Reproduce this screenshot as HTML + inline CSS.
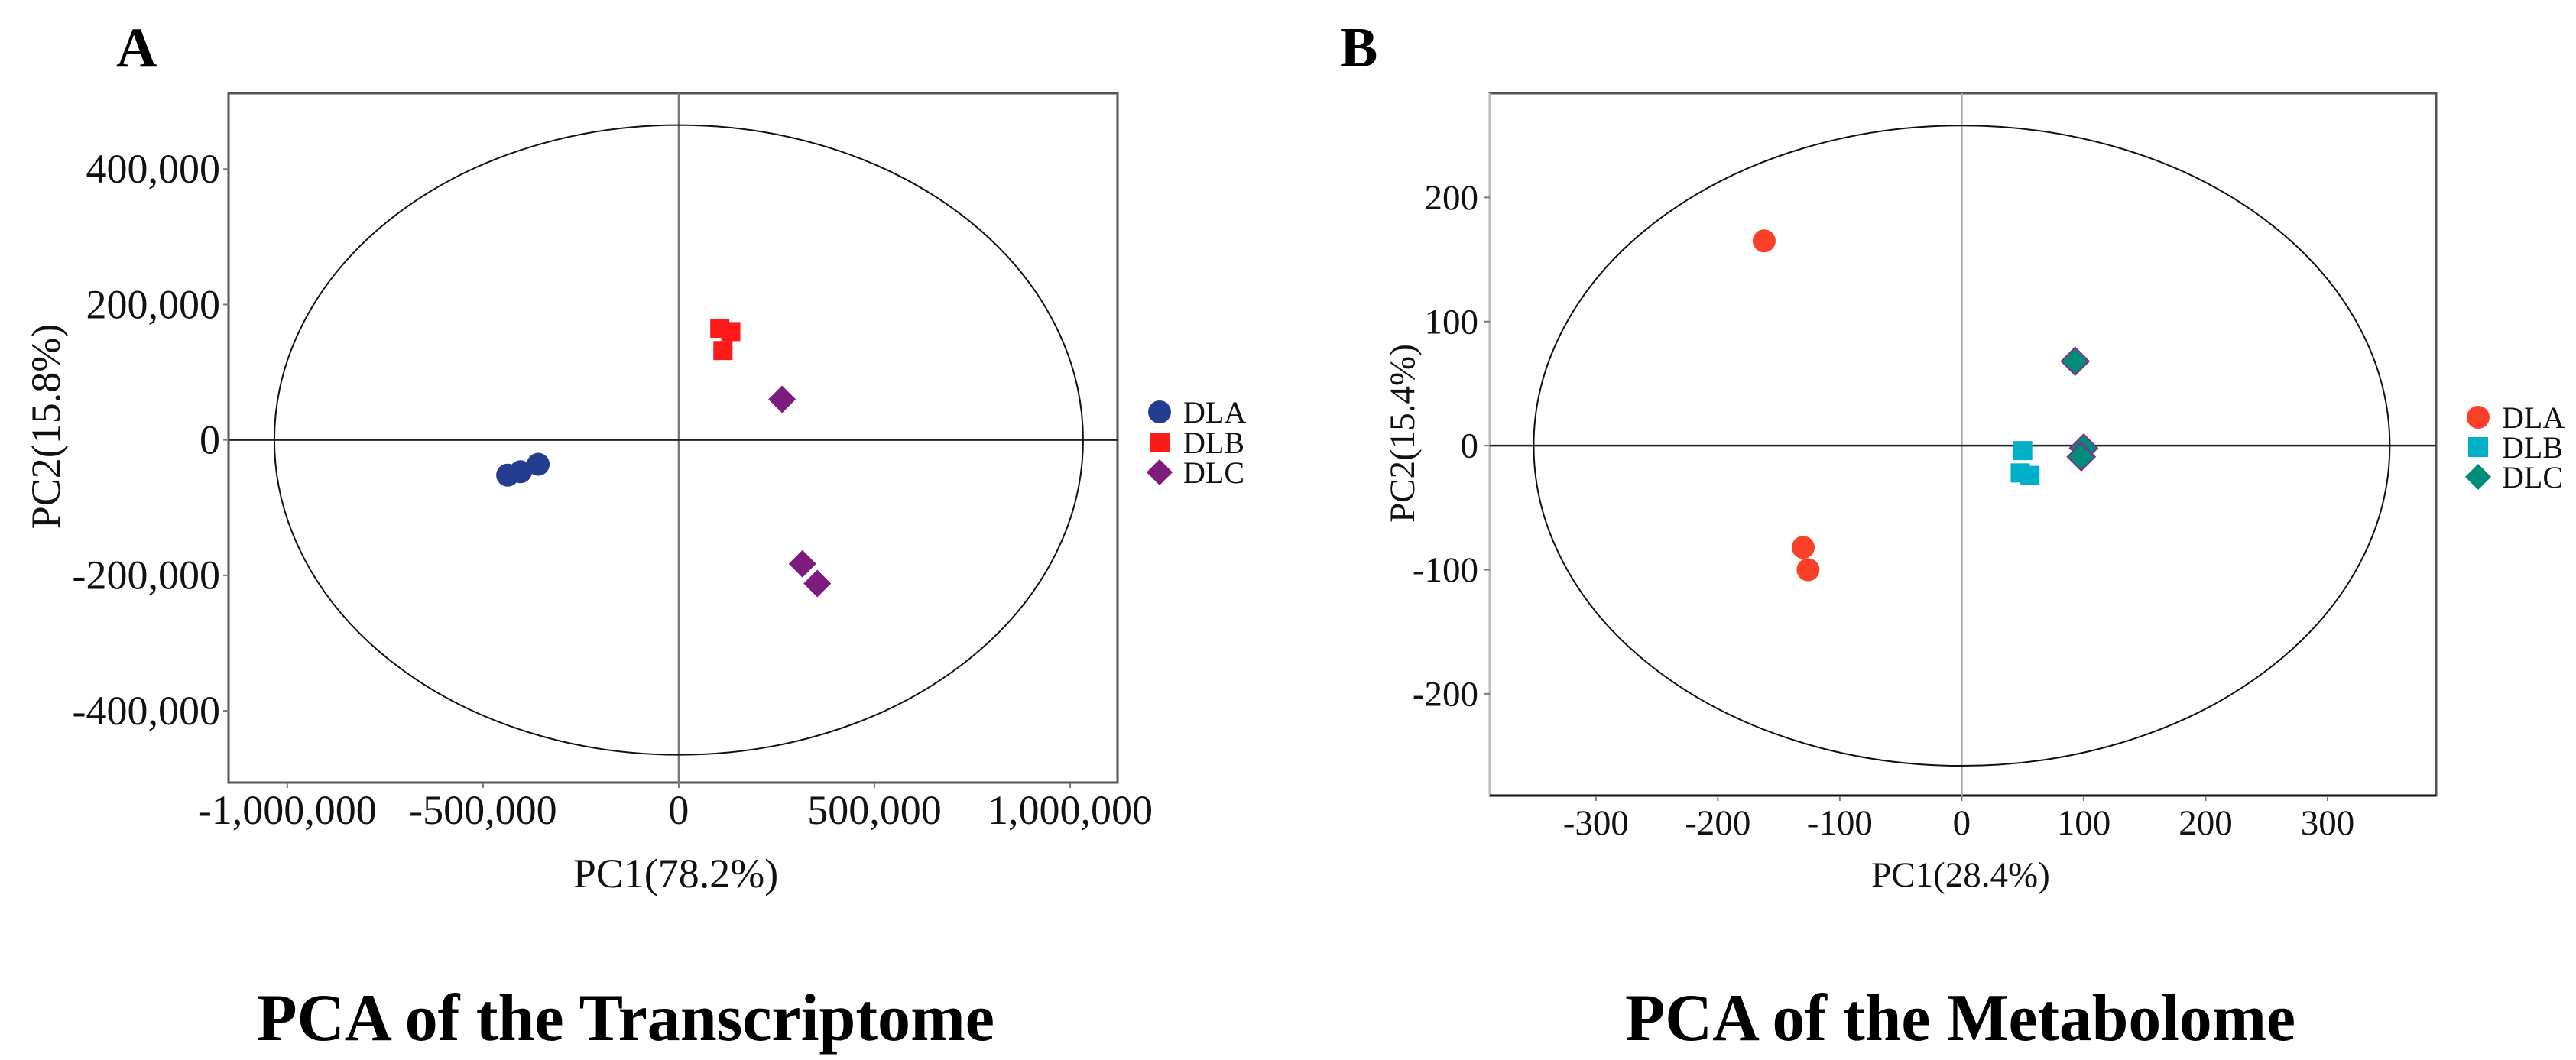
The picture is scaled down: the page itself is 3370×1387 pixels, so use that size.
<!DOCTYPE html>
<html><head><meta charset="utf-8">
<style>
html,body{margin:0;padding:0;background:#fff;}
svg{display:block;font-family:"Liberation Serif",serif;}
</style></head>
<body>
<svg id="fig" width="3370" height="1387" viewBox="0 0 3370 1387" xmlns="http://www.w3.org/2000/svg">
<rect width="3370" height="1387" fill="#fff"/>
</svg>
<script>
// ---- Panel A data (Transcriptome) ----
const aDLAx = [-437000, -404000, -359000];
const aDLAy = [-52000, -47000, -36000];
const aDLBx = [105000, 133000, 113000];
const aDLBy = [165000, 160000, 132000];
const aDLCx = [264000, 316000, 354000];
const aDLCy = [60000, -183000, -212000];
const aXTicks = [-1000000, -500000, 0, 500000, 1000000];
const aXTickLabels = ["-1,000,000", "-500,000", "0", "500,000", "1,000,000"];
const aYTicks = [400000, 200000, 0, -200000, -400000];
const aYTickLabels = ["400,000", "200,000", "0", "-200,000", "-400,000"];
const aEllipse = [1033000, 465000];
// ---- Panel B data (Metabolome) ----
const bDLAx = [-162, -130, -126];
const bDLAy = [165, -82, -100];
const bDLBx = [50, 48, 56];
const bDLBy = [-4, -22, -24];
const bDLCx = [93, 100, 98];
const bDLCy = [68, -2, -9];
const bXTicks = [-300, -200, -100, 0, 100, 200, 300];
const bXTickLabels = ["-300", "-200", "-100", "0", "100", "200", "300"];
const bYTicks = [200, 100, 0, -100, -200];
const bYTickLabels = ["200", "100", "0", "-100", "-200"];
const bEllipse = [351, 258];
const legendLabels = ["DLA", "DLB", "DLC"];

const NS = "http://www.w3.org/2000/svg";
const svg = document.getElementById("fig");
function mk(tag, attrs, parent) {
  const e = document.createElementNS(NS, tag);
  for (const k in attrs) e.setAttribute(k, attrs[k]);
  (parent || svg).appendChild(e);
  return e;
}
function txt(str, attrs, parent) {
  const t = mk("text", attrs, parent);
  t.textContent = str;
  return t;
}

function panel(cfg) {
  const g = mk("g", {});
  
  
  const sx = v => cfg.x0 + (v - cfg.xmin) / (cfg.xmax - cfg.xmin) * (cfg.x1 - cfg.x0);
  const sy = v => cfg.y1 - (v - cfg.ymin) / (cfg.ymax - cfg.ymin) * (cfg.y1 - cfg.y0);

  // frame
  const fr = mk("rect", {x: cfg.x0, y: cfg.y0, width: cfg.x1 - cfg.x0, height: cfg.y1 - cfg.y0, fill: "none", stroke: "#555", "stroke-width": 3}, g);
  
  
  const la = mk("line", {x1: cfg.x0, y1: cfg.y0, x2: cfg.x0, y2: cfg.y1, stroke: cfg.leftColor, "stroke-width": 3}, g);
  
  
  const ba = mk("line", {x1: cfg.x0, y1: cfg.y1, x2: cfg.x1, y2: cfg.y1, stroke: cfg.bottomColor, "stroke-width": 3}, g);
  
  

  // zero lines
  const vz = mk("line", {x1: sx(0), y1: cfg.y0, x2: sx(0), y2: cfg.y1, stroke: cfg.vzColor, "stroke-width": 2.5}, g);
  
  
  const hz = mk("line", {x1: cfg.x0, y1: sy(0), x2: cfg.x1, y2: sy(0), stroke: "#222", "stroke-width": 2.5}, g);
  
  

  // ellipse
  const el = mk("ellipse", {cx: sx(0), cy: sy(0), rx: sx(cfg.ell[0]) - sx(0), ry: sy(0) - sy(cfg.ell[1]), fill: "none", stroke: "#111", "stroke-width": 2}, g);
  
  

  // ticks
  cfg.xTicks.forEach((v, i) => {
    const t = mk("line", {x1: sx(v), y1: cfg.y1, x2: sx(v), y2: cfg.y1 + 7, stroke: "#777", "stroke-width": 2}, g);
    
    
    const l = txt(cfg.xTickLabels[i], {x: sx(v), y: cfg.xLabY, "font-size": cfg.fs, "text-anchor": "middle", fill: "#111"}, g);
    
    
  });
  cfg.yTicks.forEach((v, i) => {
    const t = mk("line", {x1: cfg.x0 - 7, y1: sy(v), x2: cfg.x0, y2: sy(v), stroke: "#777", "stroke-width": 2}, g);
    
    
    const l = txt(cfg.yTickLabels[i], {x: cfg.yLabX, y: sy(v) + cfg.fs * 0.33, "font-size": cfg.fs, "text-anchor": "end", fill: "#111"}, g);
    
    
  });

  // axis titles
  const xt = txt(cfg.xTitle, {x: cfg.xTitleX, y: cfg.xTitleY, "font-size": cfg.fs, "text-anchor": "middle", fill: "#111"}, g);
  
  
  const yt = txt(cfg.yTitle, {x: 0, y: 0, "font-size": cfg.fs, "text-anchor": "middle", fill: "#111", transform: "translate(" + cfg.yTitleX + "," + cfg.yTitleY + ") rotate(-90)"}, g);
  
  

  // points
  const r = cfg.r;
  cfg.dla[0].forEach((v, i) => {
    const c = mk("circle", {cx: sx(v), cy: sy(cfg.dla[1][i]), r: r, fill: cfg.colors[0]}, g);
    
    
  });
  cfg.dlb[0].forEach((v, i) => {
    const s = cfg.sq;
    const c = mk("rect", {x: sx(v) - s / 2, y: sy(cfg.dlb[1][i]) - s / 2, width: s, height: s, fill: cfg.colors[1]}, g);
    
    
  });
  cfg.dlc[0].forEach((v, i) => {
    const cx = sx(v), cy = sy(cfg.dlc[1][i]), d = cfg.dm;
    const c = mk("polygon", {points: `${cx},${cy - d} ${cx + d},${cy} ${cx},${cy + d} ${cx - d},${cy}`, fill: cfg.colors[2], stroke: cfg.dStroke, "stroke-width": cfg.dStroke === "none" ? 0 : 2}, g);
    
    
  });

  // legend
  const lg = mk("g", {}, g);
  
  
  legendLabels.forEach((lab, i) => {
    const cx = cfg.legX, cy = cfg.legY[i];
    let m;
    if (i === 0) m = mk("circle", {cx: cx, cy: cy, r: 15, fill: cfg.colors[0]}, lg);
    else if (i === 1) m = mk("rect", {x: cx - 13, y: cy - 13, width: 26, height: 26, fill: cfg.colors[1]}, lg);
    else m = mk("polygon", {points: `${cx},${cy - 17} ${cx + 17},${cy} ${cx},${cy + 17} ${cx - 17},${cy}`, fill: cfg.colors[2]}, lg);
    
    
    const t = txt(lab, {x: cx + 31, y: cy + 14, "font-size": 40, fill: "#111"}, lg);
    
    
  });

  // panel letter and title
  const pl = txt(cfg.letter, {x: cfg.letterX, y: 87, "font-size": 74, "font-weight": "bold", fill: "#000"}, g);
  
  
  const ti = txt(cfg.title, {x: cfg.titleX, y: 1361, "font-size": 88, "font-weight": "bold", fill: "#000", textLength: cfg.titleW, lengthAdjust: "spacingAndGlyphs"}, g);
  
  
}

panel({
  name: "panel-a-transcriptome", letter: "A", letterX: 152,
  title: "PCA of the Transcriptome", titleX: 336, titleW: 965,
  x0: 299, x1: 1462, y0: 122, y1: 1024,
  xmin: -1150000, xmax: 1121000, ymin: -506000, ymax: 512000,
  leftColor: "#555", bottomColor: "#555", vzColor: "#777",
  ell: aEllipse, xTicks: aXTicks, xTickLabels: aXTickLabels, yTicks: aYTicks, yTickLabels: aYTickLabels,
  fs: 54, xLabY: 1078, yLabX: 288,
  xTitle: "PC1(78.2%)", xTitleX: 884, xTitleY: 1161,
  yTitle: "PC2(15.8%)", yTitleX: 78, yTitleY: 558,
  dla: [aDLAx, aDLAy], dlb: [aDLBx, aDLBy], dlc: [aDLCx, aDLCy],
  colors: ["#253d8f", "#ff1a1a", "#7d1b7e"], dStroke: "none", r: 15, sq: 25, dm: 18,
  legX: 1517, legY: [539, 579, 618]
});
panel({
  name: "panel-b-metabolome", letter: "B", letterX: 1753,
  title: "PCA of the Metabolome", titleX: 2126, titleW: 877,
  x0: 1949, x1: 3187, y0: 122, y1: 1041,
  xmin: -387, xmax: 389, ymin: -282, ymax: 284,
  leftColor: "#bbb", bottomColor: "#111", vzColor: "#aaa",
  ell: bEllipse, xTicks: bXTicks, xTickLabels: bXTickLabels, yTicks: bYTicks, yTickLabels: bYTickLabels,
  fs: 47, xLabY: 1092, yLabX: 1934,
  xTitle: "PC1(28.4%)", xTitleX: 2565, xTitleY: 1160,
  yTitle: "PC2(15.4%)", yTitleX: 1850, yTitleY: 567,
  dla: [bDLAx, bDLAy], dlb: [bDLBx, bDLBy], dlc: [bDLCx, bDLCy],
  colors: ["#fa4127", "#00b0c8", "#008c79"], dStroke: "#8a2a8a", r: 15, sq: 25, dm: 18,
  legX: 3242, legY: [546, 585, 624]
});
</script>
</body></html>
